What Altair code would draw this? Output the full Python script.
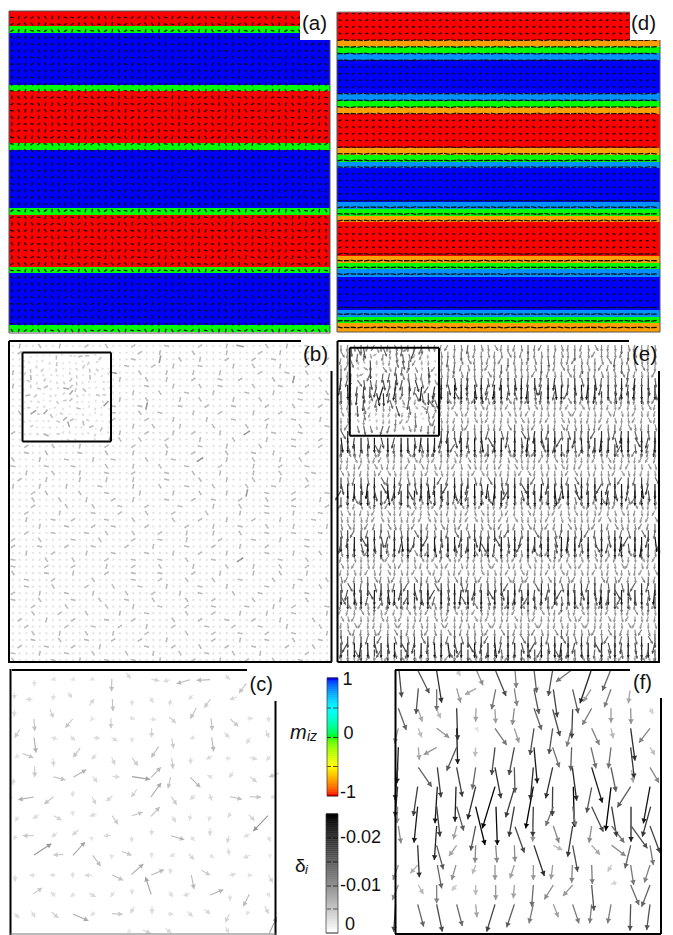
import math
import altair as alt
import pandas as pd

# ---- bands of panels (a) and (d): top edge, bottom edge, m_iz ----
a_edges = [11, 26, 33, 85, 91, 143, 150, 208, 215, 267, 273, 325, 332]
a_miz = [-1, 0, 1, 0, -1, 0, 1, 0, -1, 0, 1, 0]
d_edges = [12, 40, 46.5, 53, 60, 93, 101, 107, 114, 148, 155, 162, 168, 202, 209, 216, 222, 256, 263, 269, 277, 310, 317, 323, 332]
d_miz = [-1, -0.75, 0, 0.8, 1, 0.8, 0, -0.75, -1, -0.75, 0, 0.8, 1, 0.8, 0, -0.75, -1, -0.75, 0, 0.8, 1, 0.8, 0, -0.75]

# ---- cells of (a)/(b): letter = direction; lower case faint, upper case medium, digit strong ----
spin_rows = [
"cAfbHdaEgcbFhaDecgBfadhCebgaFdchAe3bgfDacEhbGdaf",
"fbDhaecGbfAdhcEagbhFd4acGebHfadcEgbhaFcdAegbfHca",
"bEagcFhdbAgeChfaDbgcEhaf2dbGaeHcfdAgbhEcaFgdbeHf",
"hcAfdbGeaHcgbDfaeChbgFdaEcbhGfaedAcgHbfdEagcFbhd",
"aFegbDchAfdbEghcaGfdbHeacFg5dbhAcegDfbaHgceAdfbh",
"gdBahfCebgAdfHcaeGbdhFcaEgbfdHac3ebgAfhdCaeFgbdc",
"ebHcgaEdfbAhgCdeafGbchDaegFbdhAcfeGbdaHgcEfabdgh",
"cGafdhBegcFabdHefgAcdbhEafgCbdaHefcGbhdAfeacgFbd",
"fahDcbgEfaHdgbCeafhAdgcbFehaDgbfcEahGdbcfAegdHbc",
"dCbgeAfhcDagbF6cehdGabfEcghAdbfeHcagDbfhEadgcAbf",
"ahEdfbGcaFhdeBgcAfdhaEgbcDfaheGbdcHfagAebdcFghae",
"gbAcehDfgaCebdHfagcEbdhFagcbDefhAcgdbGfaeHcdgbEf",
"eHdagfBchEagdFbcehAgfdbCaeGhfbdAcegHdfabCgedFhac",
"bcFghaEdbAfgcDhea7gfbGcdaHebfgCadhEbfcAgdaHcebFg",
"ghAebdCfaHgbeDcfhaGdbecFahgdEbcfAhedGbacfDgeHabc",
"dEfcagHbdeAfcgBdhaFecbGhdaEfgcHbaedCfhgbAdcaGefh",
"afCgbDehcaGfdbHegcAdfhbEcagFdbhcDefaGbhAcdegFbah",
"hbGdeaFcgbHdafCgeAbhdfEcgaDbfh2cegAbdfHgaeCdbFgc",
"cDaehgBfdcEabgHfcdAegbhFadcGehbfAdcgEbhaFdgeCabf",
"geAfbcHdagEfbdChgaFcebdGhafDcbgEhadfAgbcHedfaCgb",
"bFhdcaGebfAhcdEgbfaHdgecBfahDgcbEfadHgcbAfehdGac",
"edCgabFhedAfgcDbhaeGfcdbHagfEcdbAgehFdacbGhefDag",
"aGbfhdEcagHfbdCeg4haFdcbEgafhCdbeGaAhfcdEgbaHfdc",
"fcEhgaBdfcGaehDbcgAfhdeCbagFdhcEbgfAdaHgecbFdhaG",
"hAdbegFchaEgdfBhcaGebdfHagcDbfehCadgFbcaEhgdAfcb",
"cHfagdAebcFhgdEabfCghdaGfbceAhdgFbaeDcghBfadGecf",
"dbEcfhGadbAhefCdgaHbcfgEdahbFcgeAdfHbgcaEfdbCgha",
"gaBfedChgaDfbhEcagFdbehAcgfbHdaeCfgbAdhEcgafHdbe",
"ehFabcGdehAcfgDbaeHgcdFbhaEgdcAfbgHeadCfbhGdaecF",
"bcAgdfEhbcGaedFhgcBadfgHcaeDfhgbEcdaGfhbAecdgFah",
"fgHbcaDefgAhcbEdgfCahebGdfcAegbhFdacEgfbHdaeCgbd",
"adEhgfBcadFehbCgadAfchgDebaGfcdhAebgFdcaHgebEfdc",
"chBaedGfchAgdeFbch3daegfCbhdAegcFhbdaGefcAhgdbEa",
"gfDecbHagfEbchAdgfBceahGdfbEcgahDfebAcdgHfacbFhe",
"dAhfgcEbdaHfgcBehdGafbcEgdhFabceGdhfAcbeHdgfaCbg",
"beGcadFhbeAcdgHfbeCdagfHbchAegdFbaGcfdEhbagcDfeh",
"ahCfgbDeahGfbcEdahFgcbeAdhfGcabDefhAgdcbEfagHcdb",
"fdHbaeAgcfDbeaGhfdAcgbhEfadHgcbFedAchgbEdafCgbhe",
"cgAehdFbcgEhadBfcgHeadbGcfhAdebCgfaHdcbeAfgdHbac",
"hbEfcaGdhbFacgDehbAfdgcEhabFgdCefabGhdcAefbgDahc",
"eaGdhcBfeaDhgfCbeaHcgfdAebhGcdfAbgeEhcadFbghCdae",
"dfAbgeHcdfEbahGcdfBagehCdfgEbhaAcedGfhbcAgdeFhbc",
"bhFgacDebhAfcgEdbhGaecfHbdgAecfDhbaGecdfHabgEcdh",
"gcBdfhAegcHdbaFegcDhfabEgchGdafBecgHdbfAegchDbfa",
"aeHchbFdaeAgfhCbaeGfdcbAehdFgcbAhaeDfgcEbdhGafce",
"fbDagcEhfbGcaeAdfbHcgedFbahEdgcHfbeAcdaGhfbCgdae",
"cdAhebGfcdEfhgBacdFhbaeGcdhAfgeCbdaHgefAcbdGfhca",
"heFbdaChehAdcfGbheCgdfaEhbcFagdAehgBdcfHaebgDfhd",
]

# ---- (d): tick length per row, from the wall rows ----
d_row_len = [3, 3, 3, 3, 5.5, 5.5, 5.5, 5.5, 3, 3, 3, 3, 5.5, 5.5, 5.5, 5.5, 3, 3, 3, 3, 5.5, 5.5, 5.5, 5.5,
             3, 3, 3, 3, 5.5, 5.5, 5.5, 5.5, 3, 3, 3, 3, 5.5, 5.5, 5.5, 5.5, 3, 3, 3, 3, 5.5, 5.5, 5.5, 5.5]

# ---- (e): arrow length per row, letter per cell = tilt (a..e, f/g steep); upper case = longer ----
e_row_len = [8, 8, 8, 8, 8, 11, 13, 11, 8, 7, 7, 7, 8, 11, 13, 11, 8, 7, 7, 7, 10, 13, 13, 9,
             7, 7, 7, 8, 10, 13, 12, 8, 7, 7, 7, 8, 11, 13, 11, 8, 7, 7, 7, 8, 10, 13, 11, 8]
e_rows = [
"cbdCafcbgdcbDecafcdBcedgbcadCbfcdebcadgcbdCeacbd",
"dcbecCadfcbdaCecbdgbcDacebcdfBcaedcbCdacebdgcaCb",
"bdacgDcbecadCbfcadBcegbdacfCbdaecDbcafdbcegBdacd",
"cfbdaCebcdaCbegcdBaecdfbCadcbeCdagcbDecfabCdegbc",
"aCbecdgBadcfCbeadcCegbdaBcfdcaeBcdgbaCedcfBadcgb",
"dBcCaCbDcBeCdaBcDCbCaCBdcCeCDbcdCaBcCdBaCecdCBeC",
"CbDCaBCdcCBeaCDCbdCBCaCdCbBCdCaCeCbDCgCBCdaCBCeC",
"cCdBCgCbCDaCCbeCCdBCaCfCdCBCcDaCbCCeCdBgCaCCdCbC",
"gcbdaecfbdcagbdecaCfdbeagcbdfceadgbcfeadcbgdaceb",
"bfacdbgecadfbcegadbfcaegdbcafdgebcadfbcegadbcfae",
"dagbecfdbacgefdbacdgebfacdbegfacdbgaecfdbagecdbf",
"aecdfbgacdebfgacdbegacfdbaecgdfabcegdbafcgedbacf",
"cgbdCaefcCdbagCecfdCbgaeCdbfcCagdbCecfaCgdbeCacf",
"BcdCaCebCgdBCaCdeCbCfCdaBCeCdCgCaBCdCeCbCaCdfCBc",
"CdBCCaCeCbCDgCCaCdBCeCCfCaCdCBCeCCgCaCDCbCdCeCaC",
"dCaCbCfCdCaBCeCdCgaCbCdCeCBaCfCdCbCaCeCdBCgCaCbd",
"bgdacefbcdgaebfcdgbaecfdbgacefdbcgaefdbcagedfbac",
"fadbgceafdbcegadfcbeagdcfbaegdcbfageadcbfegacdbf",
"cdegabfcdegbafcdgebacfdgebacfdgbeacfdgebacfdgeba",
"gebacdfgebcadfgebacdfgbeacdfgbeacdfgbeacdfgebacd",
"dCgbCaedCbCfaCdCebgCdaCbCfeCdCagCbCdeCfCaCbgCdaC",
"CbCDaCeCCdBCgCCaCeCDbCfCCaCdBCeCCgCbCaCDCeCbCfaC",
"CaCCdBCfCeCCbCDaCgCCdCBeCaCCdCfCbCCeCDaCgCbCCdCe",
"bCdaCfbecCagdbCefacdCbgaeCdfbaCcegdCbafCdegbCadc",
"afbdgcaebfdcgaebdfcagebdfcaegbdfcagebdfacegbdfca",
"egcadfbegcadbfegcadfbegacdfbegcadfbegcadbfegcadf",
"dbfagecdbfaegcdbafgecdbafgecbdafgecdbafgecdbafge",
"fCaegbdfaCgebdfCagebdfaCegbdfaCgebdfCaegbdfaCegb",
"CbdCagCeCbdCafCdCgbCeaCdCfbCdCaeCgCbdCfCaCbeCdCg",
"BCaCdCeCBfCCaDCbCgCCeaCDCbCfCdCCaCeBCgCdCaCCbCeC",
"CdCBCgaCCeCdCbCaCfCCDbCeCaCgCBCdCfCaCCeCbCdCgCaC",
"aCebdCfgaCbdeCagfbCdaeCgbfdCaebCgdfaCbedCgafCbde",
"gdfbacegdbfacedgbfacedgbfaecdgbfacecdbgfaecdgbfa",
"ceabgdfceabdgfceabgdfceabgdfceabgdfceabdgfceabgd",
"bfdgacebfdagcebfdgacebfdagcebfdgacebfdagcebfdgac",
"dgCaefbdCgaefbdgCaefbdCgaefbdgCaefbdCgaefbdgCaef",
"CaCbdCeCfCaCdgCbCeCdaCfCbCgCdCeaCbCdCfCaCgCdCeCb",
"CeCCdBCaCCgCbDCaCeCCfCdCBCaCgCeCCdCbCaCfCCeCdBCg",
"dCbCeCaCfCdCbCgCeCaCdCbCfCeCaCdCgCbCeCdCaCfCbCed",
"agebCdfagCebdfagCebdfCagebdfagCebdCfagebdCfagebd",
"ebfdcagebfdagcebfdcagebdfacgebdfacgebfdcagebfdca",
"fcdagbefcdabgefcdagbefcdabgefcdagbefcdabgefcdagb",
"bdgfcaebdgfcaebdgfacebdgfcaebdgfcaebdgfacebdgfca",
"gCabdfecgCabdefcgCabdfecCgabdefcgCabdfecgCabdefc",
"CdCaCgCeCbCdfCaCeCgCdCbCaCfCeCdCgCbCaCeCdCfCbCag",
"CgCbCDaCCeCfCdCBCaCCgCeCbCdCCaCfCBCeCdCgCaCbCCDe",
"dCeCaCbCgCdCfCeCaCbCdCgCfCeCaCdCbCeCfCgCaCdCbCeC",
"aCdfCgbeCadCfbCgeaCdCfbgCeaCdfCbgeCaCdfbCgeaCdCf",
]

# ---- (c): centre x, centre y, dx, dy in a 3x view of the panel (head at +d/2) ----
c_arrows = [
(103,70,2,18),(160,58,-14,6),(218,58,-14,4),(276,58,-14,6),(335,75,-1,38),(385,47,14,18),(466,60,24,4),(500,62,-20,6),
(550,65,-40,12),(610,60,-40,2),(683,52,14,14),(728,85,-22,28),(43,108,0,20),(88,118,-20,0),(160,112,0,18),(210,105,12,18),
(275,127,14,-20),(338,135,2,36),(396,128,2,18),(455,120,12,16),(510,128,4,-20),(572,112,-12,14),(622,130,-18,26),(700,115,-22,8),
(43,160,-2,20),(103,195,2,36),(155,160,10,26),(207,190,-22,26),(275,178,-10,10),(333,190,0,30),(397,175,16,6),(460,178,18,4),
(518,180,20,18),(580,160,-18,32),(635,193,4,36),(703,188,24,22),(750,175,18,2),(806,178,0,18),(52,220,-16,26),(105,255,6,46),
(163,235,-18,-6),(218,235,14,16),(290,234,20,2),(343,238,18,12),(396,240,2,16),(455,218,0,28),(518,250,6,30),(577,234,-16,6),
(638,253,6,42),(680,225,16,16),(745,242,-12,18),(802,222,10,22),(50,290,-12,10),(84,287,32,13),(160,307,2,24),(230,278,-21,27),
(282,290,-14,16),(340,303,10,22),(405,305,18,24),(465,276,-22,32),(517,310,4,32),(572,302,0,20),(628,293,-18,10),(685,295,16,0),
(760,295,22,6),(805,295,-14,14),(40,365,-4,18),(104,335,0,32),(178,355,36,10),(240,340,38,-22),(285,358,14,18),(348,350,22,2),
(423,354,54,8),(468,337,29,-30),(508,368,-8,34),(586,367,30,30),(630,350,-16,-8),(693,345,-12,16),(760,358,20,16),(822,345,-30,12),
(35,413,10,0),(78,415,-46,8),(147,421,-28,22),(218,402,0,18),(282,422,12,22),(328,416,-18,16),(402,400,-16,22),(468,390,30,-42),
(522,422,16,24),(578,412,-16,14),(632,412,6,20),(708,414,36,8),(766,411,34,2),(820,412,14,8),(50,477,-10,14),(108,470,-18,12),
(173,474,22,14),(218,460,0,16),(280,465,-20,8),(345,480,18,26),(412,462,32,-10),(466,455,26,-28),(522,478,12,18),(570,473,-4,18),
(628,476,-6,16),(688,465,-10,16),(755,473,18,18),(782,490,-44,46),(45,533,-8,14),(85,527,-32,0),(163,525,-16,14),(226,518,-18,16),
(275,537,0,14),(322,527,-22,2),(395,538,0,18),(455,516,0,20),(533,533,40,12),(578,536,12,14),(630,516,0,22),(684,538,-6,22),
(740,527,-18,8),(808,537,8,16),(128,568,52,-34),(175,584,-30,2),(237,566,36,-40),(290,602,24,32),(335,590,0,16),(380,580,30,12),
(455,585,0,16),(517,586,-16,6),(574,590,16,18),(636,590,12,10),(686,575,4,20),(740,590,-20,8),(810,590,0,12),(45,655,0,20),
(97,646,-18,0),(158,645,-18,0),(218,645,0,18),(265,646,-22,0),(353,653,32,16),(412,628,36,-32),(473,637,38,-16),(511,633,0,18),
(578,666,8,42),(617,638,26,14),(697,644,20,-6),(750,646,16,0),(812,657,12,22),(113,693,26,-19),(160,703,-14,-14),(218,705,-14,10),
(277,705,20,10),(337,703,-10,16),(396,695,0,18),(445,677,-17,-52),(513,703,12,16),(560,704,-20,8),(650,697,40,-16),(690,714,0,18),
(739,721,-18,36),(806,705,8,14),(50,767,16,14),(100,763,12,18),(165,765,20,18),(242,772,46,20),(278,762,-14,10),(352,762,32,2),
(397,750,-12,20),(456,750,0,22),(512,762,18,2),(570,762,16,16),(622,755,18,14),(682,775,-12,24),(742,760,-6,14),(800,750,12,22),
(819,796,22,-48),(682,810,10,18),(505,812,18,14),(440,815,24,10),(386,815,-10,8),
]

# ---- (f): tail x, tail y, head x, head y in a 3x view of the panel ----
f_arrows = [
(42,30,50,112),(98,30,133,100),(155,33,170,128),(215,28,226,48),(274,30,294,76),(332,33,363,108),(390,28,394,84),(447,28,455,98),
(503,30,490,108),(563,28,513,65),(618,33,585,130),(678,28,652,92),(100,85,93,162),(155,88,155,152),(215,85,227,128),(273,85,240,104),
(332,88,320,148),(388,85,396,138),(447,88,462,162),(505,88,517,172),(563,88,580,160),(618,88,595,125),(678,88,658,142),(735,92,730,130),
(40,145,64,210),(100,150,112,185),(155,148,167,175),(215,145,218,240),(273,145,272,185),(330,148,332,190),(388,145,382,195),(447,145,470,210),
(503,148,525,228),(563,148,560,235),(620,145,592,195),(678,145,678,188),(737,145,738,192),(795,145,805,162),(40,205,28,250),(100,205,110,232),
(155,205,193,233),(215,205,218,312),(275,205,280,215),(330,205,365,255),(388,205,402,248),(447,205,435,285),(503,205,492,282),(560,205,545,260),
(620,205,643,255),(678,205,685,235),(737,205,750,302),(795,205,762,248),(40,262,36,370),(100,262,103,300),(155,262,116,284),(215,262,185,332),
(272,262,270,290),(330,262,320,345),(388,262,372,345),(447,262,457,370),(503,262,523,322),(560,262,557,332),(618,262,633,325),(678,262,670,325),
(737,262,748,355),(795,262,810,285),(38,322,30,420),(100,322,140,380),(157,322,168,412),(215,322,232,410),(272,322,262,388),(330,322,348,415),
(388,322,390,398),(445,322,436,420),(503,322,482,415),(562,322,575,422),(620,322,652,428),(678,322,693,395),(740,330,745,368),(795,322,822,368),
(38,380,30,470),(98,380,85,468),(157,380,150,490),(213,380,210,485),(272,380,248,478),(330,380,292,505),(388,385,362,472),(445,380,422,505),
(503,380,502,468),(565,380,568,500),(620,382,605,458),(678,382,662,512),(737,380,697,442),(795,380,775,490),(38,440,36,490),(98,440,87,548),
(155,440,165,530),(215,440,236,512),(272,440,300,555),(333,440,337,555),(388,440,372,530),(445,440,443,530),(505,440,482,498),(563,440,572,500),
(620,440,655,515),(680,440,695,530),(738,440,738,545),(797,440,772,530),(40,498,48,550),(155,498,148,600),(215,498,205,538),(272,498,257,572),
(390,500,418,578),(445,498,443,545),(505,498,522,548),(563,498,548,590),(620,498,612,548),(680,498,718,548),(740,500,787,565),(795,498,825,578),
(98,556,103,652),(155,556,175,628),(215,556,192,588),(272,556,270,608),(332,556,336,608),(388,556,390,605),(447,556,478,648),(505,556,532,570),
(563,556,578,635),(620,556,645,584),(680,556,722,588),(737,556,720,625),(795,556,805,615),(40,615,24,660),(98,615,76,640),(157,615,170,685),
(213,615,200,660),(272,615,262,642),(330,615,330,660),(388,615,375,655),(445,615,445,660),(503,615,498,658),(562,615,560,668),(620,615,622,672),
(680,615,668,635),(737,615,746,675),(795,615,778,668),(40,675,22,720),(100,675,115,702),(155,675,155,730),(215,675,200,692),(272,675,272,705),
(332,675,332,720),(388,675,385,715),(445,675,440,740),(505,675,478,718),(563,675,534,708),(620,675,627,752),(695,667,678,672),(737,675,762,735),
(795,675,770,740),(32,733,26,815),(98,733,116,800),(155,733,172,815),(215,733,232,798),(272,733,276,772),(330,733,305,815),(388,733,365,802),
(445,733,432,790),(505,733,520,772),(563,733,582,790),(620,733,614,790),(678,733,668,790),(737,733,735,812),(795,733,785,810),
]

# ---- panel lines: x0, y0, x1, y1, width, colour ----
frames = [
(9, 11, 300, 11, 1, "#555555"), (9, 11, 9, 333, 1, "#555555"), (9, 333, 330, 333, 1, "#555555"), (330, 40, 330, 333, 1, "#555555"),
(337, 12, 630, 12, 1, "#888888"), (337, 12, 337, 332, 1, "#555555"), (337, 332, 660, 332, 1, "#555555"), (660, 40, 660, 332, 1, "#555555"),
(9, 341, 301, 341, 2, "#000000"), (9, 341, 9, 663, 2, "#000000"), (9, 662, 332, 662, 2, "#000000"), (331.5, 371, 331.5, 662, 2, "#000000"),
(22.5, 352.5, 111, 352.5, 2, "#000000"), (22.5, 441.5, 111, 441.5, 2, "#000000"), (22.5, 352.5, 22.5, 441.5, 2, "#000000"), (111, 352.5, 111, 441.5, 2, "#000000"),
(337.5, 341, 629, 341, 2, "#000000"), (337.5, 341, 337.5, 662, 2, "#000000"), (337.5, 662, 660, 662, 2, "#000000"), (659, 371, 659, 662, 2, "#000000"),
(349.7, 347.7, 439, 347.7, 2, "#000000"), (349.7, 435.7, 439, 435.7, 2, "#000000"), (349.7, 347.7, 349.7, 435.7, 2, "#000000"), (439, 347.7, 439, 435.7, 2, "#000000"),
(12, 670, 247, 670, 2, "#000000"), (10.5, 669, 10.5, 935, 2, "#000000"), (275.5, 701, 275.5, 935, 2, "#000000"), (10, 934, 276, 934, 1, "#777777"),
(395, 670, 630, 670, 2, "#000000"), (395.5, 670, 395.5, 934, 2, "#000000"), (661, 698, 661, 934, 2, "#000000"), (395, 934, 661, 934, 2, "#000000"),
(327, 678, 338, 678, 1, "#222244"), (327, 796, 338, 796, 1, "#331100"), (327, 678, 327, 796, 0.7, "#333333"), (338, 678, 338, 796, 0.7, "#333333"),
(327, 708, 331, 708, 1, "#225555"), (333, 708, 338, 708, 1, "#225555"), (327, 737.5, 331, 737.5, 1, "#114411"), (333, 737.5, 338, 737.5, 1, "#114411"),
(327, 766.5, 331, 766.5, 1, "#555511"), (333, 766.5, 338, 766.5, 1, "#555511"),
(326, 814, 338, 814, 1, "#111111"), (326, 933, 338, 933, 1, "#222222"), (326, 814, 326, 933, 0.7, "#333333"), (338, 814, 338, 933, 0.7, "#333333"),
(327, 838, 331, 838, 1, "#111111"), (333, 838, 338, 838, 1, "#111111"), (327, 862, 331, 862, 1, "#222222"), (333, 862, 338, 862, 1, "#222222"),
(327, 886, 331, 886, 1, "#333333"), (333, 886, 338, 886, 1, "#333333"), (327, 909, 331, 909, 1, "#555555"), (333, 909, 338, 909, 1, "#555555"),
]

# ---- white boxes behind the panel letters: x0, y0, x1, y1 ----
label_boxes = [(300, 10, 333, 40), (630, 10, 663, 40), (301, 342, 336, 371), (630, 342, 663, 371), (247, 671, 280, 701), (631, 671, 665, 698)]

# ---- text: x, y, string, size ----
labels = [
(302, 24, "(a)", 20.5), (631, 24, "(d)", 20.5), (303, 355, "(b)", 20.5), (632, 355, "(e)", 20.5), (249.5, 685, "(c)", 20), (633, 683, "(f)", 20),
(342.5, 680, "1", 18), (343.5, 734, "0", 18), (340, 793, "-1", 18), (340, 838, "-0.02", 18), (340, 886, "-0.01", 18), (345, 925, "0", 18),
(295, 866, "\u03b4", 19),
]
italic_labels = [(290, 733, "m", 20), (307, 737, "iz", 14), (305, 870, "i", 13)]

miz_bar = [i / 59 * 2 - 1 for i in range(60)]
delta_bar = [i / 59 * 0.025 for i in range(60)]

X = alt.Scale(domain=[8, 665], nice=False, zero=False)
Y = alt.Scale(domain=[935, 8], nice=False, zero=False)
x = lambda f: alt.X(f + ":Q", scale=X, axis=None)
y = lambda f: alt.Y(f + ":Q", scale=Y, axis=None)


def seg_frame(items):
    rows = []
    for x0, y0, x1, y1 in items:
        dx, dy = x1 - x0, y1 - y0
        n = math.hypot(dx, dy) or 1
        rows.append(dict(x0=x0, y0=y0, x1=x1, y1=y1, len=n, ang=math.degrees(math.atan2(dx, -dy)), ux=dx / n, uy=dy / n))
    return pd.DataFrame(rows)


def rule_layer(df, domain, width):
    return alt.Chart(df).mark_rule(strokeWidth=width).encode(
        x=x("x0"), y=y("y0"), x2="x1:Q", y2="y1:Q",
        color=alt.Color("len:Q", scale=alt.Scale(domain=domain, range=["#ffffff", "#000000"]), legend=None),
    )


def head_layer(df, domain, size, back):
    d = df.copy()
    d["hx"] = d.x1 - d.ux * back
    d["hy"] = d.y1 - d.uy * back
    return alt.Chart(d).mark_point(filled=True, shape="triangle-up", size=size, opacity=1, strokeWidth=0).encode(
        x=x("hx"), y=y("hy"), angle=alt.Angle("ang:Q", scale=None),
        color=alt.Color("len:Q", scale=alt.Scale(domain=domain, range=["#ffffff", "#000000"]), legend=None),
    )


def bands(edges, vals):
    return pd.DataFrame(dict(top=edges[:-1], bot=edges[1:], m=vals))


def turned(row, r):
    # the typed rows repeat with similar periods; turning each row keeps columns from lining up
    s = (r * r * 7 + r * 11) % 48
    return row[s:] + row[:s]


DIRS = "abcdefgh"
a_segs, b_segs, d_segs, e_segs = [], [], [], []
for r, row in enumerate(spin_rows):
    other = turned(row, r)
    for q, ch in enumerate(row[:48]):
        low = ch.lower()
        k = int(ch) - 1 if ch.isdigit() else DIRS.index(low)
        st = other[q] if q < len(other) else "a"
        blen = 7.5 if st.isdigit() else (5 if st.isupper() else 2.2)
        th = math.radians(k * 45 + 12)
        ux, uy = math.sin(th), -math.cos(th)
        ax, ay = 12 + q * 6.68, 17.5 + r * 6.66
        a_segs.append((ax - ux * 1.8, ay - uy * 1.8, ax + ux * 1.8, ay + uy * 1.8))
        bx, by = 13 + q * 6.68, 346 + r * 6.68
        if not (22 < bx < 112 and 352 < by < 442):
            b_segs.append((bx - ux * blen / 2, by - uy * blen / 2, bx + ux * blen / 2, by + uy * blen / 2))
        L = d_row_len[r]
        tilt = math.radians((k - 3.5) * (3 if L > 4 else 9))
        dx_, dy_ = math.cos(tilt), math.sin(tilt)
        cx_, cy_ = 340 + q * 6.68, 13.5 + r * 6.68
        d_segs.append((cx_ - dx_ * L / 2, cy_ - dy_ * L / 2, cx_ + dx_ * L / 2, cy_ + dy_ * L / 2))

TILT = dict(a=-14, b=-7, c=0, d=7, e=14, f=-30, g=30)
for r, row in enumerate(e_rows):
    row = turned(row, r)
    for q, ch in enumerate(row[:48]):
        t = TILT.get(ch.lower(), 0)
        L = e_row_len[r] * (1.15 if ch.isupper() else 0.85)
        t = math.radians(t)
        ex, ey = 341 + q * 6.68, 345 + r * 6.62
        if not (349 < ex < 440 and 345 < ey < 436):
            e_segs.append((ex, ey, ex + L * math.sin(t), min(ey + L * math.cos(t), 661)))

c_segs = [(cx - dx / 2, cy - dy / 2, cx + dx / 2, cy + dy / 2) for cx, cy, dx, dy in c_arrows]
c_real = [(a / 3, 660 + b / 3, c / 3, 660 + d / 3) for a, b, c, d in c_segs]
f_real = [(385 + a / 3, 660 + b / 3, 385 + c / 3, 660 + d / 3) for a, b, c, d in f_arrows]
b_inset = [(22.5 + (a - 10) / 3, 352.5 + (b - 670) / 3, 22.5 + (c - 10) / 3, 352.5 + (d - 670) / 3) for a, b, c, d in c_real]
e_inset = [(349.7 + (a - 395) / 3, 347.7 + (b - 670) / 3, 349.7 + (c - 395) / 3, 347.7 + (d - 670) / 3) for a, b, c, d in f_real]

MIZ_SCALE = alt.Scale(domain=[-1, -0.5, 0, 0.5, 1], range=["#ff0000", "#ffff00", "#00ff00", "#00ffff", "#0000ff"])
GRAY_SCALE = alt.Scale(domain=[0, 0.025], range=["#ffffff", "#000000"])


def band_layer(df, x0, x1):
    d = df.copy()
    d["xa"], d["xb"] = x0, x1
    return alt.Chart(d).mark_rect(strokeWidth=0).encode(
        x=x("xa"), x2="xb:Q", y=y("top"), y2="bot:Q",
        color=alt.Color("m:Q", scale=MIZ_SCALE, legend=None),
    )


layers = [band_layer(bands(a_edges, a_miz), 9, 330), band_layer(bands(d_edges, d_miz), 337, 660)]
tick_df_a = seg_frame(a_segs)
layers.append(alt.Chart(tick_df_a).mark_rule(strokeWidth=1.3, color="#111111").encode(x=x("x0"), y=y("y0"), x2="x1:Q", y2="y1:Q"))
tick_df_d = seg_frame(d_segs)
layers.append(alt.Chart(tick_df_d).mark_rule(strokeWidth=1.3, color="#111111").encode(x=x("x0"), y=y("y0"), x2="x1:Q", y2="y1:Q"))

box_df = pd.DataFrame(label_boxes, columns=["a", "b", "c", "d"])
layers.append(alt.Chart(box_df).mark_rect(color="white", strokeWidth=0).encode(x=x("a"), x2="c:Q", y=y("b"), y2="d:Q"))

df_b = seg_frame(b_segs + b_inset)
layers.append(rule_layer(df_b, [0, 20], 1.6))
df_e = seg_frame(e_segs + e_inset)
layers.append(rule_layer(df_e, [0, 16], 1.2))
layers.append(head_layer(df_e, [0, 16], 9, 1.2))
df_c = seg_frame(c_real)
layers.append(rule_layer(df_c, [0, 55], 1.1))
layers.append(head_layer(df_c, [0, 55], 26, 2.2))
df_f = seg_frame(f_real)
layers.append(rule_layer(df_f, [0, 40], 1.3))
layers.append(head_layer(df_f, [0, 40], 30, 2.4))

n1, n2 = len(miz_bar), len(delta_bar)
bar1 = pd.DataFrame(dict(v=miz_bar, t=[796 - (i + 1.2) * 118 / n1 for i in range(n1)], b=[796 - i * 118 / n1 for i in range(n1)], a=327, c=338))
layers.append(alt.Chart(bar1).mark_rect(strokeWidth=0).encode(x=x("a"), x2="c:Q", y=y("t"), y2="b:Q",
                                                              color=alt.Color("v:Q", scale=MIZ_SCALE, legend=None)))
bar2 = pd.DataFrame(dict(v=delta_bar, t=[933 - (i + 1.2) * 119 / n2 for i in range(n2)], b=[933 - i * 119 / n2 for i in range(n2)], a=326, c=338))
layers.append(alt.Chart(bar2).mark_rect(strokeWidth=0).encode(x=x("a"), x2="c:Q", y=y("t"), y2="b:Q",
                                                              color=alt.Color("v:Q", scale=GRAY_SCALE, legend=None)))

fr = pd.DataFrame(frames, columns=["x0", "y0", "x1", "y1", "w", "col"])
layers.append(alt.Chart(fr).mark_rule().encode(x=x("x0"), y=y("y0"), x2="x1:Q", y2="y1:Q",
                                               strokeWidth=alt.StrokeWidth("w:Q", scale=None),
                                               color=alt.Color("col:N", scale=None)))

for items, style in ((labels, "normal"), (italic_labels, "italic")):
    tf = pd.DataFrame(items, columns=["x0", "y0", "s", "z"])
    layers.append(alt.Chart(tf).mark_text(align="left", baseline="middle", font="Liberation Sans", fontStyle=style, color="#111111").encode(
        x=x("x0"), y=y("y0"), text="s:N", size=alt.Size("z:Q", scale=None)))

chart = alt.layer(*layers).resolve_scale(color="independent").properties(
    width=657, height=927, padding=0, autosize=alt.AutoSizeParams(type="none"), background="white"
).configure_view(stroke=None)

chart.save("out.html", embed_options={"renderer": "svg", "actions": False})
